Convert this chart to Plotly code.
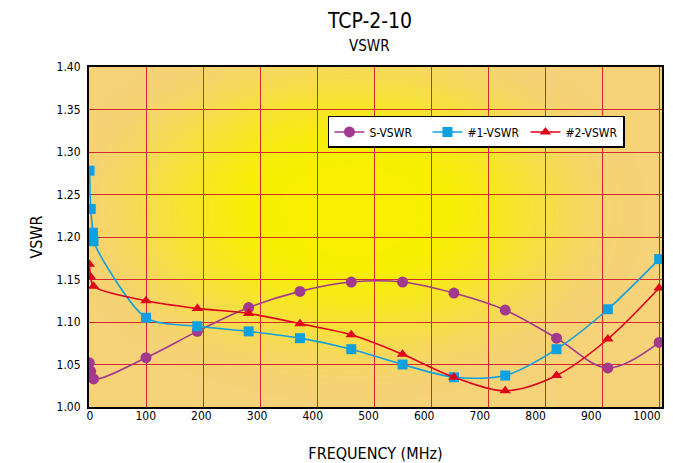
import base64
import struct
import zlib

import numpy as np
import plotly.graph_objects as go

# ---------------- data ----------------
s_freq = [0.5, 3, 8, 100, 190, 280, 370, 460, 550, 640, 730, 820, 910, 1000]
s_vswr = [1.052, 1.042, 1.033, 1.058, 1.089, 1.117, 1.136, 1.147, 1.147, 1.134, 1.114, 1.081, 1.046, 1.076]

b1_freq = [1, 3, 7, 8, 100, 190, 280, 370, 460, 550, 640, 730, 820, 910, 1000]
b1_vswr = [1.278, 1.233, 1.205, 1.195, 1.105, 1.095, 1.089, 1.081, 1.068, 1.050, 1.035, 1.037, 1.068, 1.115, 1.174]

b2_freq = [0.5, 3, 8, 100, 190, 280, 370, 460, 550, 640, 730, 820, 910, 1000]
b2_vswr = [1.168, 1.153, 1.142, 1.125, 1.116, 1.110, 1.098, 1.085, 1.062, 1.035, 1.019, 1.037, 1.080, 1.140]

x_ticks = [0, 100, 200, 300, 400, 500, 600, 700, 800, 900, 1000]

# ---------------- background gradient image ----------------
W, H = 573, 340
yy, xx = np.mgrid[0:H, 0:W]
fx = xx / W
fy = yy / H
r = np.sqrt(((fx - 0.455) / 0.55) ** 2 + ((fy - 0.42) / 0.6) ** 2)
t = np.clip((r - 0.22) / 0.72, 0, 1)
t = t * t * (3 - 2 * t)
c0 = np.array([248, 240, 0], float)
c1 = np.array([246, 210, 120], float)
img = (c0[None, None, :] * (1 - t[..., None]) + c1[None, None, :] * t[..., None]).astype(np.uint8)


def png_bytes(arr):
    h, w, _ = arr.shape
    raw = b"".join(b"\x00" + arr[i].tobytes() for i in range(h))

    def chunk(tag, data):
        return (struct.pack(">I", len(data)) + tag + data +
                struct.pack(">I", zlib.crc32(tag + data) & 0xFFFFFFFF))

    return (b"\x89PNG\r\n\x1a\n" +
            chunk(b"IHDR", struct.pack(">IIBBBBB", w, h, 8, 2, 0, 0, 0)) +
            chunk(b"IDAT", zlib.compress(raw, 9)) +
            chunk(b"IEND", b""))


bg_uri = "data:image/png;base64," + base64.b64encode(png_bytes(img)).decode()

FONT = "Liberation Sans Narrow, DejaVu Sans Condensed, Arial Narrow, sans-serif"
GRID = "#d42a2c"

fig = go.Figure()
fig.add_trace(go.Scatter(
    x=s_freq, y=s_vswr, name="S-VSWR", mode="lines+markers",
    line=dict(color="#a2398f", width=1.6, shape="spline", smoothing=1),
    marker=dict(symbol="circle", size=11, color="#a2398f"),
))
fig.add_trace(go.Scatter(
    x=b1_freq, y=b1_vswr, name="#1-VSWR", mode="lines+markers",
    line=dict(color="#0fa0e0", width=1.6, shape="spline", smoothing=0.8),
    marker=dict(symbol="square", size=10, color="#0fa0e0"),
))
fig.add_trace(go.Scatter(
    x=b2_freq, y=b2_vswr, name="#2-VSWR", mode="lines+markers",
    line=dict(color="#e0001b", width=1.6, shape="spline", smoothing=0.9),
    marker=dict(symbol="triangle-up", size=10, color="#e0001b"),
))
# empty trace that only activates the label axis
fig.add_trace(go.Scatter(x=[], y=[], xaxis="x2", yaxis="y", showlegend=False,
                         hoverinfo="skip", mode="markers"))

fig.update_layout(
    width=665, height=455,
    margin=dict(l=81, r=11, t=59, b=56, autoexpand=False),
    paper_bgcolor="white",
    plot_bgcolor="rgba(0,0,0,0)",
    font=dict(family=FONT, size=12, color="black"),
    annotations=[
        dict(text="TCP-2-10", xref="paper", yref="paper", x=0.49, y=1 + 46 / 340,
             xanchor="center", yanchor="middle", showarrow=False,
             font=dict(size=21, family=FONT)),
        dict(text="VSWR", xref="paper", yref="paper", x=0.49, y=1 + 21 / 340,
             xanchor="center", yanchor="middle", showarrow=False,
             font=dict(size=15, family=FONT)),
    ],
    images=[dict(source=bg_uri, xref="paper", yref="paper", x=0, y=1,
                 sizex=1, sizey=1, xanchor="left", yanchor="top",
                 sizing="stretch", layer="below")],
    legend=dict(
        orientation="h", x=0.417, y=0.856, xanchor="left", yanchor="top",
        bgcolor="white", bordercolor="black", borderwidth=1.5,
        font=dict(size=12, family=FONT), entrywidth=53,
        itemwidth=30, tracegroupgap=0,
    ),
    showlegend=True,
    xaxis=dict(
        range=[0, 1005], tickvals=x_ticks, showticklabels=False,
        showgrid=True, gridcolor=GRID, gridwidth=1.2,
        showline=True, linecolor="black", linewidth=2, mirror=True,
        zeroline=False, ticks="", automargin=False,
        title=dict(text="FREQUENCY (MHz)", font=dict(size=16, family=FONT), standoff=40),
    ),
    # label-only axis: the reference prints its frequency labels on a
    # slightly tighter pitch than its grid
    xaxis2=dict(
        overlaying="x", anchor="y", side="bottom", range=[-1.8, 1027],
        tickvals=x_ticks, ticktext=[str(v) for v in x_ticks],
        showgrid=False, showline=False, zeroline=False, ticks="",
        automargin=False, tickfont=dict(size=12, family=FONT),
        ticklabeloverflow="allow",
    ),
    yaxis=dict(
        range=[1.0, 1.4], dtick=0.05, tickformat=".2f",
        showgrid=True, gridcolor=GRID, gridwidth=1.2,
        showline=True, linecolor="black", linewidth=2, mirror=True,
        zeroline=False, ticks="", automargin=False,
        title=dict(text="VSWR", font=dict(size=16, family=FONT), standoff=10),
        tickfont=dict(size=12), ticklabelstandoff=4,
    ),
)

fig.write_html("out.html")
